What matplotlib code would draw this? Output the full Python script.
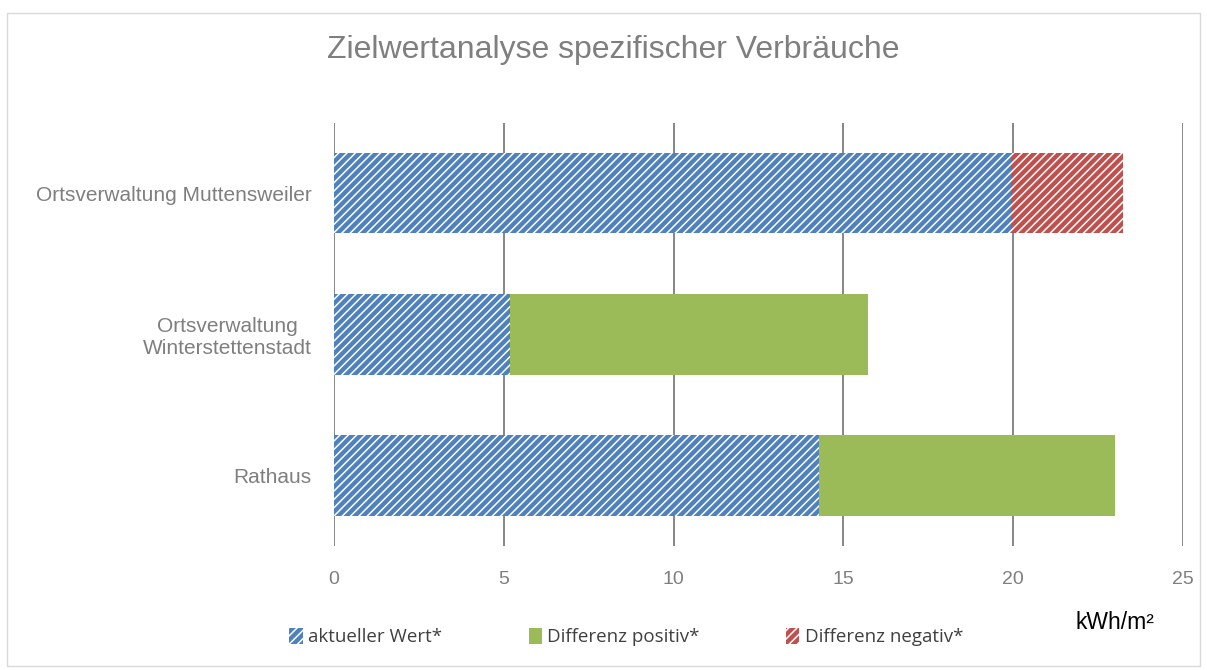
import matplotlib.pyplot as plt
from matplotlib.patches import Patch, Rectangle

plt.rcParams['font.family'] = ['Liberation Sans', 'DejaVu Sans']
plt.rcParams['hatch.linewidth'] = 1.1

# Data (kWh/m²)
categories = ['Ortsverwaltung Muttensweiler', 'Ortsverwaltung\nWinterstettenstadt', 'Rathaus']
aktuell = [19.95, 5.18, 14.28]
diff_pos = [0.0, 10.54, 8.72]
diff_neg = [3.27, 0.0, 0.0]
xticks = [0, 5, 10, 15, 20, 25]

blue = '#4F81BD'
green = '#9BBB59'
red = '#C0504D'
grey_txt = '#7F7F7F'

fig = plt.figure(figsize=(12.07, 6.70), dpi=100)
ax = fig.add_axes([0.2767, 0.185, 0.7034, 0.632])

ypos = list(range(len(categories)))
h = 0.57
ax.barh(ypos, aktuell, height=h, color=blue, edgecolor='white', hatch='////', linewidth=0, zorder=3)
ax.barh(ypos, diff_pos, left=aktuell, height=h, color=green, linewidth=0, zorder=3)
ax.barh(ypos, diff_neg, left=aktuell, height=h, color=red, edgecolor='white', hatch='////', linewidth=0, zorder=3)

ax.set_ylim(len(categories) - 0.5, -0.5)
ax.set_xlim(0, 25)
ax.set_yticks(ypos)
ax.set_yticklabels(categories, fontsize=15, color=grey_txt, ha='right', multialignment='center')
ax.tick_params(axis='y', length=0, pad=16)
ax.set_xticks(xticks)
ax.set_xticklabels([str(t) for t in xticks], fontsize=14, color=grey_txt)
ax.tick_params(axis='x', length=0, pad=18)
ax.grid(axis='x', color='#868686', linewidth=1.4, zorder=0)
for s in ax.spines.values():
    s.set_visible(False)

fig.text(0.508, 0.925, 'Zielwertanalyse spezifischer Verbräuche', fontsize=23,
         color=grey_txt, ha='center', va='center')
fig.text(0.924, 0.071, 'kWh/m²', fontsize=16.5, color='black', ha='center', va='center')

handles = [Patch(facecolor=blue, edgecolor='white', hatch='////', linewidth=0),
           Patch(facecolor=green, linewidth=0),
           Patch(facecolor=red, edgecolor='white', hatch='////', linewidth=0)]
labels = ['aktueller Wert*', 'Differenz positiv*', 'Differenz negativ*']
fig.legend(handles, labels, ncol=3, loc='center', bbox_to_anchor=(0.519, 0.049),
           frameon=False, handlelength=0.7, handleheight=0.9,
           handletextpad=0.3, columnspacing=4.6, labelcolor='#404040',
           prop={'family': 'Open Sans', 'size': 13.5})

fig.patches.append(Rectangle((0.006, 0.006), 0.988, 0.975, transform=fig.transFigure,
                             fill=False, edgecolor='#d9d9d9', linewidth=1))

fig.savefig('out.png', dpi=100)
